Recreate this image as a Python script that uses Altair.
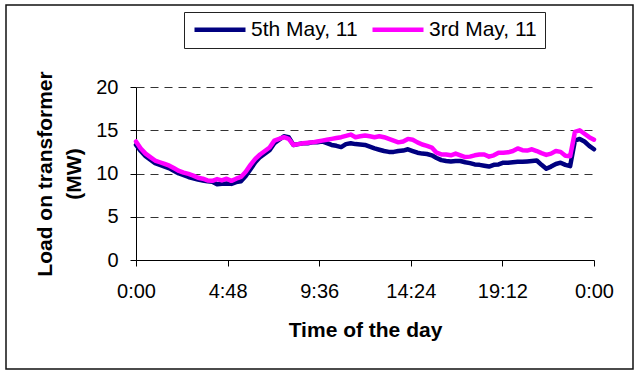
import altair as alt
import pandas as pd

# x grid: every 15 minutes of the day
minutes = list(range(0, 1441, 15))

may5 = [13.3, 12.6, 12.0, 11.6, 11.2, 11.0, 10.8, 10.6, 10.3, 10.0,
        9.8, 9.6, 9.45, 9.3, 9.2, 9.1, 9.05, 8.75, 8.8, 8.85,
        8.8, 9.0, 9.1, 9.7, 10.5, 11.3, 11.9, 12.3, 12.7, 13.5,
        13.9, 14.3, 14.2, 13.3, 13.4, 13.5, 13.5, 13.6, 13.6, 13.7,
        13.5, 13.3, 13.2, 13.05, 13.4, 13.5, 13.4, 13.35, 13.3, 13.1,
        12.9, 12.75, 12.6, 12.5, 12.5, 12.6, 12.65, 12.8, 12.6, 12.4,
        12.3, 12.25, 12.1, 11.8, 11.55, 11.45, 11.4, 11.45, 11.45, 11.3,
        11.2, 11.05, 11.0, 10.9, 10.8, 11.0, 11.05, 11.25, 11.25, 11.3,
        11.35, 11.35, 11.4, 11.45, 11.5, 11.0, 10.55, 10.8, 11.1, 11.25,
        11.0, 10.85, 13.8, 14.0, 13.7, 13.2, 12.8]

may3 = [13.7, 12.9, 12.3, 11.9, 11.5, 11.3, 11.1, 10.9, 10.6, 10.3,
        10.1, 9.95, 9.75, 9.5, 9.4, 9.2, 9.15, 9.35, 9.2, 9.4,
        9.15, 9.4, 9.6, 10.2, 11.0, 11.7, 12.2, 12.6, 13.0, 13.8,
        14.0, 14.2, 14.0, 13.3, 13.4, 13.5, 13.55, 13.6, 13.7, 13.8,
        13.9, 14.0, 14.1, 14.2, 14.35, 14.5, 14.2, 14.3, 14.4, 14.3,
        14.2, 14.3, 14.2, 14.0, 13.8, 13.6, 13.7, 14.0, 13.9, 13.6,
        13.35, 13.2, 13.0, 12.4, 12.2, 12.2, 12.1, 12.3, 12.1, 11.9,
        11.95, 12.1, 12.2, 12.2, 11.95, 12.1, 12.4, 12.4, 12.45, 12.6,
        12.9, 12.7, 12.65, 12.8, 12.6, 12.35, 12.15, 12.3, 12.6, 12.5,
        12.05, 12.0, 14.8, 15.0, 14.6, 14.2, 13.9]

series_names = ["5th May, 11", "3rd May, 11"]
series_colors = ["#000080", "#FF00FF"]
x_ticks = [0, 288, 576, 864, 1152, 1440]
y_ticks = [0, 5, 10, 15, 20]

rows = []
for name, vals in zip(series_names, [may5, may3]):
    for m, v in zip(minutes, vals):
        rows.append({"minute": m, "load": v, "series": name})
df = pd.DataFrame(rows)

FONT = "Liberation Sans"

x_enc = alt.X(
    "minute:Q",
    scale=alt.Scale(domain=[0, 1440], nice=False),
    axis=alt.Axis(
        values=x_ticks,
        labelExpr="floor(datum.value/60)%24 + ':' + (datum.value%60 < 10 ? '0' : '') + (datum.value%60)",
        title="Time of the day",
        grid=False,
        tickSize=6,
        labelPadding=15,
        labelFontSize=20,
        labelFlush=False,
        titleFontSize=21,
        titleFontWeight="bold",
        titleBaseline="alphabetic",
        titleX=229,
        titleY=76,
    ),
)
y_enc = alt.Y(
    "load:Q",
    scale=alt.Scale(domain=[0, 20], nice=False),
    axis=alt.Axis(
        values=y_ticks,
        title=["Load on transformer", "(MW)"],
        grid=True,
        gridDash=[8, 6],
        gridColor="#333333",
        gridWidth=1,
        tickSize=6,
        labelPadding=12,
        labelFontSize=20,
        titleFontSize=21,
        titleFontWeight="bold",
        titleAngle=270,
        titleAlign="center",
        titleBaseline="alphabetic",
        titleLineHeight=29,
        titleX=-85,
        titleY=86.5,
    ),
)
color_enc = alt.Color(
    "series:N",
    scale=alt.Scale(domain=series_names, range=series_colors),
    title=None,
    legend=alt.Legend(
        orient="none",
        legendX=48,
        legendY=-75,
        direction="horizontal",
        symbolType="stroke",
        symbolSize=2601,
        symbolStrokeWidth=4.5,
        clipHeight=19,
        labelFontSize=21,
        labelFont=FONT,
        labelColor="black",
        strokeColor="#222222",
        fillColor="white",
        padding=8,
        columnPadding=12,
        labelOffset=3,
    ),
)

frame = alt.Chart(pd.DataFrame({"k": [0]})).mark_rect(
    filled=False, stroke="#111111", strokeWidth=1.5
).encode(
    x=alt.value(-130), x2=alt.value(497), y=alt.value(-82), y2=alt.value(282)
)

lines = []
for name in series_names:
    lines.append(
        alt.Chart(df)
        .transform_filter(alt.datum.series == name)
        .mark_line(strokeWidth=4.5, strokeJoin="round", strokeCap="round")
        .encode(x=x_enc, y=y_enc, color=color_enc)
    )

chart = (
    alt.layer(frame, *lines)
    .properties(
        width=458,
        height=173,
        padding={"left": 136, "top": 87, "right": 45, "bottom": 111},
        autosize=alt.AutoSizeParams(type="none"),
        background="white",
    )
    .configure_view(strokeWidth=0)
    .configure_axis(
        labelFont=FONT,
        titleFont=FONT,
        labelColor="black",
        titleColor="black",
        domainColor="black",
        tickColor="black",
        domainWidth=1,
        tickWidth=1,
    )
)

chart.save("out.html", embed_options={"renderer": "svg", "actions": False})
